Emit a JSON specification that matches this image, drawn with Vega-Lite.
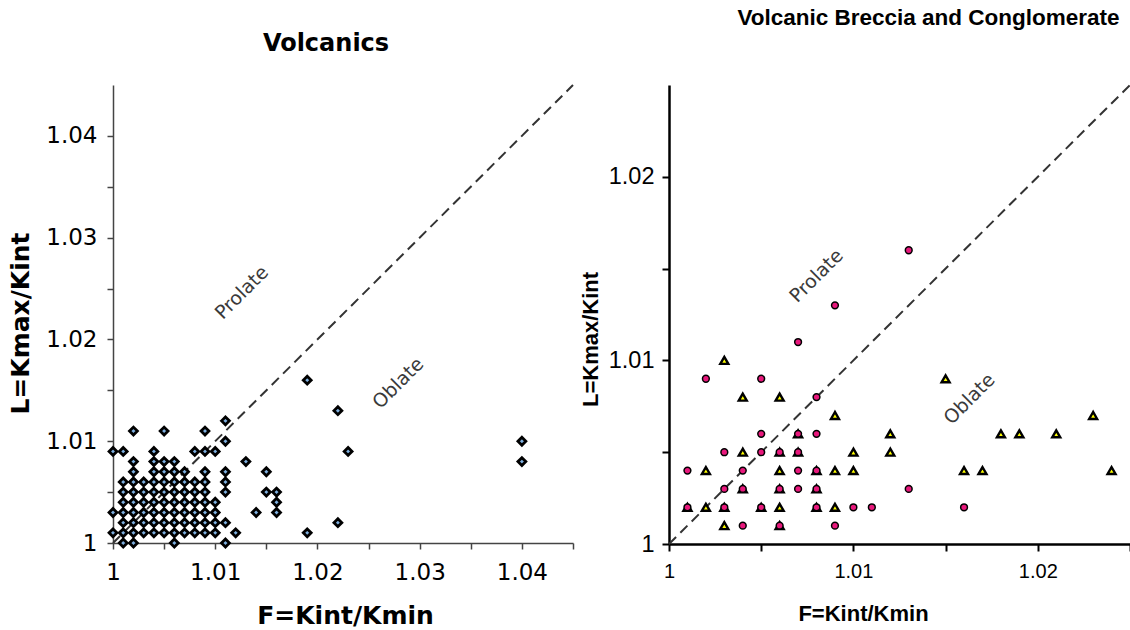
{
  "$schema": "https://vega.github.io/schema/vega-lite/v6.json",
  "background": "white",
  "padding": {"left": 8, "top": 6, "right": 0, "bottom": 0},
  "bounds": "flush",
  "spacing": 96,
  "config": {"view": {"stroke": null}, "axis": {"grid": false}},
  "datasets": {
    "volcanics": [
      {"F":1.019,"L":1.016},
      {"F":1.022,"L":1.013},
      {"F":1.011,"L":1.012},
      {"F":1.002,"L":1.011},{"F":1.005,"L":1.011},{"F":1.009,"L":1.011},
      {"F":1.011,"L":1.010},{"F":1.040,"L":1.010},
      {"F":1.000,"L":1.009},{"F":1.001,"L":1.009},{"F":1.004,"L":1.009},{"F":1.008,"L":1.009},{"F":1.009,"L":1.009},{"F":1.010,"L":1.009},{"F":1.023,"L":1.009},
      {"F":1.002,"L":1.008},{"F":1.004,"L":1.008},{"F":1.005,"L":1.008},{"F":1.006,"L":1.008},{"F":1.013,"L":1.008},{"F":1.040,"L":1.008},
      {"F":1.002,"L":1.007},{"F":1.004,"L":1.007},{"F":1.005,"L":1.007},{"F":1.006,"L":1.007},{"F":1.007,"L":1.007},{"F":1.009,"L":1.007},{"F":1.011,"L":1.007},{"F":1.015,"L":1.007},
      {"F":1.001,"L":1.006},{"F":1.002,"L":1.006},{"F":1.003,"L":1.006},{"F":1.004,"L":1.006},{"F":1.005,"L":1.006},{"F":1.006,"L":1.006},{"F":1.007,"L":1.006},{"F":1.008,"L":1.006},{"F":1.009,"L":1.006},{"F":1.011,"L":1.006},
      {"F":1.001,"L":1.005},{"F":1.002,"L":1.005},{"F":1.003,"L":1.005},{"F":1.004,"L":1.005},{"F":1.005,"L":1.005},{"F":1.006,"L":1.005},{"F":1.007,"L":1.005},{"F":1.008,"L":1.005},{"F":1.009,"L":1.005},{"F":1.011,"L":1.005},{"F":1.015,"L":1.005},{"F":1.016,"L":1.005},
      {"F":1.001,"L":1.004},{"F":1.002,"L":1.004},{"F":1.003,"L":1.004},{"F":1.004,"L":1.004},{"F":1.005,"L":1.004},{"F":1.006,"L":1.004},{"F":1.007,"L":1.004},{"F":1.008,"L":1.004},{"F":1.009,"L":1.004},{"F":1.010,"L":1.004},{"F":1.016,"L":1.004},
      {"F":1.000,"L":1.003},{"F":1.001,"L":1.003},{"F":1.002,"L":1.003},{"F":1.003,"L":1.003},{"F":1.004,"L":1.003},{"F":1.005,"L":1.003},{"F":1.006,"L":1.003},{"F":1.007,"L":1.003},{"F":1.008,"L":1.003},{"F":1.009,"L":1.003},{"F":1.010,"L":1.003},{"F":1.014,"L":1.003},{"F":1.016,"L":1.003},
      {"F":1.001,"L":1.002},{"F":1.002,"L":1.002},{"F":1.003,"L":1.002},{"F":1.004,"L":1.002},{"F":1.005,"L":1.002},{"F":1.006,"L":1.002},{"F":1.007,"L":1.002},{"F":1.008,"L":1.002},{"F":1.009,"L":1.002},{"F":1.010,"L":1.002},{"F":1.011,"L":1.002},{"F":1.022,"L":1.002},
      {"F":1.000,"L":1.001},{"F":1.001,"L":1.001},{"F":1.002,"L":1.001},{"F":1.003,"L":1.001},{"F":1.004,"L":1.001},{"F":1.005,"L":1.001},{"F":1.006,"L":1.001},{"F":1.007,"L":1.001},{"F":1.008,"L":1.001},{"F":1.009,"L":1.001},{"F":1.010,"L":1.001},{"F":1.012,"L":1.001},{"F":1.019,"L":1.001},
      {"F":1.001,"L":1.000},{"F":1.002,"L":1.000},{"F":1.006,"L":1.000},{"F":1.011,"L":1.000}
    ],
    "conglomerate": [
      {"F":1.003,"L":1.010},
      {"F":1.015,"L":1.009},
      {"F":1.004,"L":1.008},{"F":1.006,"L":1.008},
      {"F":1.009,"L":1.007},{"F":1.023,"L":1.007},
      {"F":1.007,"L":1.006},{"F":1.012,"L":1.006},{"F":1.018,"L":1.006},{"F":1.019,"L":1.006},{"F":1.021,"L":1.006},
      {"F":1.004,"L":1.005},{"F":1.006,"L":1.005},{"F":1.007,"L":1.005},{"F":1.010,"L":1.005},{"F":1.012,"L":1.005},
      {"F":1.002,"L":1.004},{"F":1.006,"L":1.004},{"F":1.008,"L":1.004},{"F":1.009,"L":1.004},{"F":1.010,"L":1.004},{"F":1.016,"L":1.004},{"F":1.017,"L":1.004},{"F":1.024,"L":1.004},
      {"F":1.004,"L":1.003},{"F":1.006,"L":1.003},{"F":1.008,"L":1.003},
      {"F":1.001,"L":1.002},{"F":1.002,"L":1.002},{"F":1.003,"L":1.002},{"F":1.005,"L":1.002},{"F":1.006,"L":1.002},{"F":1.008,"L":1.002},{"F":1.009,"L":1.002},
      {"F":1.003,"L":1.001},{"F":1.006,"L":1.001}
    ],
    "breccia": [
      {"F":1.013,"L":1.016},
      {"F":1.009,"L":1.013},
      {"F":1.007,"L":1.011},
      {"F":1.002,"L":1.009},{"F":1.005,"L":1.009},
      {"F":1.008,"L":1.008},
      {"F":1.005,"L":1.006},{"F":1.007,"L":1.006},{"F":1.008,"L":1.006},
      {"F":1.003,"L":1.005},{"F":1.005,"L":1.005},{"F":1.006,"L":1.005},{"F":1.007,"L":1.005},
      {"F":1.001,"L":1.004},{"F":1.004,"L":1.004},{"F":1.007,"L":1.004},{"F":1.008,"L":1.004},
      {"F":1.003,"L":1.003},{"F":1.004,"L":1.003},{"F":1.006,"L":1.003},{"F":1.007,"L":1.003},{"F":1.008,"L":1.003},{"F":1.013,"L":1.003},
      {"F":1.001,"L":1.002},{"F":1.003,"L":1.002},{"F":1.005,"L":1.002},{"F":1.008,"L":1.002},{"F":1.010,"L":1.002},{"F":1.011,"L":1.002},{"F":1.016,"L":1.002},
      {"F":1.004,"L":1.001},{"F":1.006,"L":1.001},{"F":1.009,"L":1.001}
    ],
    "isoLeft": [{"F":1.0,"L":1.0},{"F":1.045,"L":1.045}],
    "isoRight": [{"F":1.0,"L":1.0},{"F":1.025,"L":1.025}],
    "fieldsLeft": [{"F":1.0126,"L":1.0246,"name":"Prolate"},{"F":1.0279,"L":1.0157,"name":"Oblate"}],
    "fieldsRight": [{"F":1.0080,"L":1.0146,"name":"Prolate"},{"F":1.0163,"L":1.0079,"name":"Oblate"}]
  },
  "hconcat": [
    {
      "width": 460,
      "height": 458,
      "title": {"text": "Volcanics", "font": "DejaVu Sans", "fontSize": 24, "fontWeight": "bold", "color": "black", "anchor": "middle", "baseline": "alphabetic", "offset": 6, "dx": -17},
      "encoding": {
        "x": {"field": "F", "type": "quantitative",
          "scale": {"domain": [1, 1.045], "zero": false, "nice": false},
          "axis": {
            "values": [1, 1.005, 1.01, 1.015, 1.02, 1.025, 1.03, 1.035, 1.04, 1.045],
            "labelExpr": "round(datum.value*1000) % 10 == 0 ? toString(round(datum.value*100)/100) : ''",
            "labelFont": "DejaVu Sans", "labelFontSize": 23, "labelColor": "black", "labelPadding": 12,
            "labelFlush": false, "labelOverlap": false, "labelBound": false,
            "tickSize": 6, "tickColor": "#444", "tickWidth": 1.5,
            "domainColor": "#444", "domainWidth": 1.5,
            "title": "F=Kint/Kmin", "titleFont": "DejaVu Sans", "titleFontSize": 25, "titleFontWeight": "bold", "titleColor": "black",
            "titleX": 232, "titleY": 80, "titleBaseline": "alphabetic", "titleAlign": "center"
          }},
        "y": {"field": "L", "type": "quantitative",
          "scale": {"domain": [1, 1.045], "zero": false, "nice": false},
          "axis": {
            "values": [1, 1.005, 1.01, 1.015, 1.02, 1.025, 1.03, 1.035, 1.04],
            "labelExpr": "round(datum.value*1000) % 10 == 0 ? toString(round(datum.value*100)/100) : ''",
            "labelFont": "DejaVu Sans", "labelFontSize": 23, "labelColor": "black", "labelPadding": 10,
            "labelFlush": false, "labelOverlap": false, "labelBound": false,
            "tickSize": 6, "tickColor": "#444", "tickWidth": 1.5,
            "domainColor": "#444", "domainWidth": 1.5,
            "title": "L=Kmax/Kint", "titleFont": "DejaVu Sans", "titleFontSize": 25, "titleFontWeight": "bold", "titleColor": "black",
            "titleX": -93, "titleY": 238, "titleBaseline": "middle", "titleAlign": "center", "titleAngle": 270
          }}
      },
      "layer": [
        {"data": {"name": "isoLeft"}, "mark": {"type": "line", "color": "#333", "strokeWidth": 2, "strokeDash": [10, 6]}},
        {"data": {"name": "volcanics"}, "mark": {"type": "point", "shape": "diamond", "filled": true, "fill": "#7fb0e0", "stroke": "black", "strokeWidth": 2.8, "size": 62, "opacity": 1}},
        {"data": {"name": "fieldsLeft"}, "mark": {"type": "text", "angle": -45, "font": "DejaVu Sans", "fontSize": 19, "color": "#3a3a3a", "align": "center", "baseline": "middle"},
          "encoding": {"text": {"field": "name"}}}
      ]
    },
    {
      "width": 461,
      "height": 459,
      "title": {"text": "Volcanic Breccia and Conglomerate", "font": "Liberation Sans", "fontSize": 22.5, "fontWeight": "bold", "color": "black", "anchor": "middle", "baseline": "alphabetic", "offset": 34, "dx": 29},
      "encoding": {
        "x": {"field": "F", "type": "quantitative",
          "scale": {"domain": [1, 1.025], "zero": false, "nice": false},
          "axis": {
            "values": [1, 1.005, 1.01, 1.015, 1.02, 1.025],
            "labelExpr": "round(datum.value*1000) % 10 == 0 ? toString(round(datum.value*100)/100) : ''",
            "labelFont": "Liberation Sans", "labelFontSize": 20, "labelColor": "black", "labelPadding": 10,
            "labelFlush": false, "labelOverlap": false, "labelBound": false,
            "tickSize": 7, "tickColor": "black", "tickWidth": 2,
            "domainColor": "black", "domainWidth": 2.5,
            "title": "F=Kint/Kmin", "titleFont": "Liberation Sans", "titleFontSize": 22, "titleFontWeight": "bold", "titleColor": "black",
            "titleX": 194, "titleY": 76, "titleBaseline": "alphabetic", "titleAlign": "center"
          }},
        "y": {"field": "L", "type": "quantitative",
          "scale": {"domain": [1, 1.025], "zero": false, "nice": false},
          "axis": {
            "values": [1, 1.005, 1.01, 1.015, 1.02],
            "labelExpr": "round(datum.value*1000) % 10 == 0 ? toString(round(datum.value*100)/100) : ''",
            "labelFont": "Liberation Sans", "labelFontSize": 23.5, "labelColor": "black", "labelPadding": 8,
            "labelFlush": false, "labelOverlap": false, "labelBound": false,
            "tickSize": 7, "tickColor": "black", "tickWidth": 2,
            "domainColor": "black", "domainWidth": 2.5,
            "title": "L=Kmax/Kint", "titleFont": "Liberation Sans", "titleFontSize": 22, "titleFontWeight": "bold", "titleColor": "black",
            "titleX": -79, "titleY": 254, "titleBaseline": "middle", "titleAlign": "center", "titleAngle": 270
          }}
      },
      "layer": [
        {"data": {"name": "isoRight"}, "mark": {"type": "line", "color": "#333", "strokeWidth": 2, "strokeDash": [10, 6]}},
        {"data": {"name": "conglomerate"}, "mark": {"type": "point", "shape": "triangle-up", "filled": true, "fill": "#ffff00", "stroke": "black", "strokeWidth": 2.4, "size": 64, "opacity": 1}},
        {"data": {"name": "breccia"}, "mark": {"type": "point", "shape": "circle", "filled": true, "fill": "#e8187c", "stroke": "black", "strokeWidth": 1.5, "size": 46, "opacity": 1}},
        {"data": {"name": "fieldsRight"}, "mark": {"type": "text", "angle": -45, "font": "DejaVu Sans", "fontSize": 19, "color": "#3a3a3a", "align": "center", "baseline": "middle"},
          "encoding": {"text": {"field": "name"}}}
      ]
    }
  ]
}
